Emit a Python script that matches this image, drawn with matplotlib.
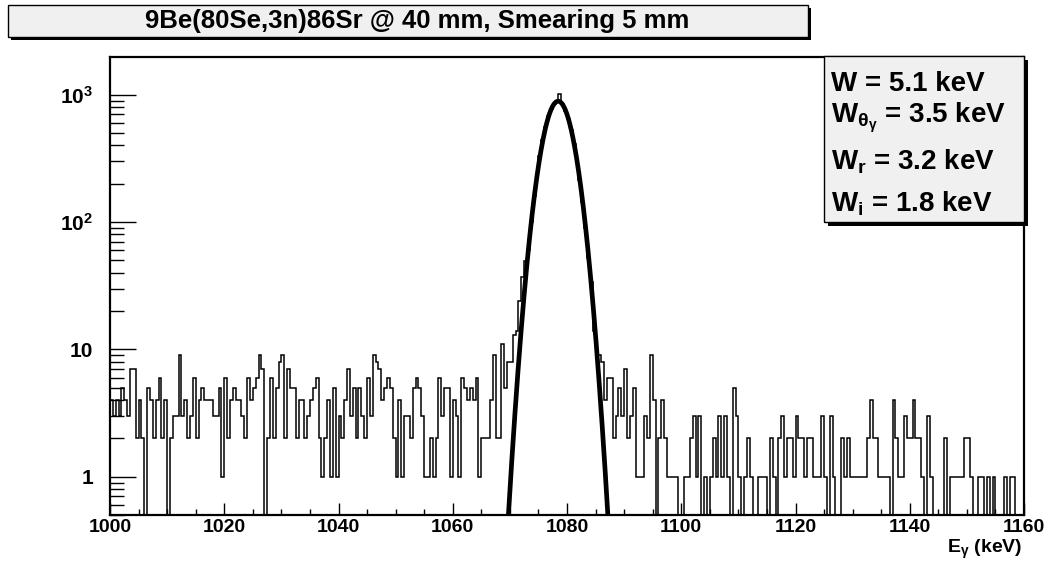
import numpy as np
import matplotlib
matplotlib.use('Agg')
import matplotlib.pyplot as plt
from matplotlib.patches import Rectangle
from matplotlib.ticker import FixedLocator, FixedFormatter, MultipleLocator, LogLocator, NullFormatter

plt.rcParams['font.family'] = ['Liberation Sans', 'DejaVu Sans']
plt.rcParams['font.weight'] = 'bold'
plt.rcParams['mathtext.fontset'] = 'custom'
plt.rcParams['mathtext.rm'] = 'Liberation Sans:bold'
plt.rcParams['mathtext.it'] = 'Liberation Sans:bold'
plt.rcParams['mathtext.bf'] = 'Liberation Sans:bold'
plt.rcParams['mathtext.default'] = 'regular'

# histogram: 0.5 keV bins from 1000 to 1160 keV
e_min, e_max, bin_w = 1000.0, 1160.0, 0.5
counts_1000_1040 = [4, 3, 4, 3, 5, 4, 3, 7, 7, 2, 4, 2, 0, 5, 4, 2, 4, 6, 2, 4,
                    0, 2, 3, 3, 9, 3, 4, 2, 3, 6, 2, 4, 5, 4, 4, 4, 3, 3, 5, 1,
                    6, 2, 4, 5, 4, 4, 3, 2, 6, 4, 5, 6, 9, 7, 0, 2, 6, 2, 5, 8,
                    9, 2, 7, 5, 5, 2, 4, 4, 2, 3, 4, 5, 6, 2, 1, 2, 4, 1, 5, 1]
counts_1040_1080 = [3, 2, 4, 7, 3, 5, 2, 5, 3, 2, 6, 3, 9, 8, 7, 4, 5, 6, 5, 2,
                    1, 4, 1, 3, 3, 2, 5, 6, 5, 3, 1, 1, 2, 1, 2, 6, 3, 5, 5, 1,
                    4, 3, 1, 6, 5, 4, 5, 4, 6, 1, 2, 2, 2, 4, 9, 2, 2, 11, 5, 8,
                    8, 13, 14, 24, 37, 49, 60, 100, 160, 235,
                    330, 440, 560, 675, 775, 850, 900, 1020, 840, 750]
counts_1080_1120 = [640, 525, 410, 305, 215, 145, 90, 52, 34, 14,
                    9, 9, 8, 4, 6, 6, 2, 3, 5, 3, 7, 2, 3, 5, 1, 1, 1, 3, 2, 9,
                    4, 0, 2, 4, 2, 1, 1, 1, 1, 0, 0, 1, 1, 2, 3, 1, 3, 0, 1, 0,
                    1, 2, 1, 3, 1, 3, 1, 0, 5, 3, 1, 0, 1, 2, 1, 0, 0, 1, 1, 1,
                    0, 2, 1, 0, 2, 3, 1, 2, 2, 1]
counts_1120_1160 = [3, 2, 2, 1, 2, 2, 1, 1, 1, 3, 1, 0, 3, 1, 0, 0, 2, 1, 2, 1,
                    1, 1, 1, 1, 1, 2, 4, 2, 2, 1, 1, 1, 1, 0, 4, 2, 1, 1, 3, 2,
                    2, 4, 2, 2, 1, 0, 3, 1, 0, 0, 0, 0, 2, 0, 1, 1, 1, 1, 1, 2,
                    2, 1, 0, 0, 1, 1, 0, 1, 0, 1, 0, 0, 0, 1, 0, 1, 1, 0, 0, 0]

# gaussian fit
fit_amp, fit_mean, fit_sigma = 890.0, 1078.45, 2.25

title = "9Be(80Se,3n)86Sr @ 40 mm, Smearing 5 mm"
stat_lines = ["W = 5.1 keV",
              r"W$_{\theta_{\gamma}}$ = 3.5 keV",
              r"W$_{r}$ = 3.2 keV",
              r"W$_{i}$ = 1.8 keV"]

counts = np.array(counts_1000_1040 + counts_1040_1080 + counts_1080_1120 + counts_1120_1160, float)
edges = np.arange(e_min, e_max + bin_w / 2, bin_w)

W, H = 1053, 567
fig = plt.figure(figsize=(W / 100, H / 100), dpi=100)

def fx(px):
    return px / W

def fy(py):
    return 1 - py / H

ax = fig.add_axes([fx(110), fy(515), fx(1024) - fx(110), fy(56.7) - fy(515)])

# zero bins drawn down past the bottom of the frame
ax.stairs(np.where(counts > 0, counts, 1e-3), edges, baseline=None, color='black', lw=1.1)

xf = np.linspace(1066, 1091, 600)
ax.plot(xf, fit_amp * np.exp(-(xf - fit_mean) ** 2 / (2 * fit_sigma ** 2)), color='black', lw=3.4)

ax.set_yscale('log')
ax.set_xlim(e_min, e_max)
ax.set_ylim(0.5, 1990)

ax.xaxis.set_major_locator(MultipleLocator(20))
ax.xaxis.set_minor_locator(MultipleLocator(5))
ax.yaxis.set_major_locator(FixedLocator([1, 10, 100, 1000]))
ax.yaxis.set_major_formatter(FixedFormatter(['1', '10', r'10$^{2}$', r'10$^{3}$']))
ax.yaxis.set_minor_locator(LogLocator(base=10, subs=np.arange(2, 10)))
ax.yaxis.set_minor_formatter(NullFormatter())

ax.tick_params(which='both', direction='in', top=False, right=False, width=1.0, labelsize=14)
ax.tick_params(axis='y', which='major', length=19, pad=12, labelsize=15)
ax.tick_params(axis='y', which='minor', length=10)
ax.tick_params(axis='x', which='major', length=8.5, pad=3)
ax.tick_params(axis='x', which='minor', length=4.3)
for sp in ax.spines.values():
    sp.set_linewidth(1.6)

fig.text(fx(1022), fy(553), r"E$_{\gamma}$ (keV)", ha='right', va='baseline', fontsize=14)

# title box with shadow
fig.patches.append(Rectangle((fx(11), fy(40)), fx(800), fy(5) - fy(37), transform=fig.transFigure,
                             facecolor='black', edgecolor='none', zorder=5))
fig.patches.append(Rectangle((fx(8), fy(37)), fx(800), fy(5) - fy(37), transform=fig.transFigure,
                             facecolor='#f0f0f0', edgecolor='black', lw=1.0, zorder=6))
fig.text(fx(417), fy(21), title, ha='center', va='center', fontsize=18.5, zorder=7)

# stats box with shadow
fig.patches.append(Rectangle((fx(828), fy(226)), fx(200), fy(56) - fy(222), transform=fig.transFigure,
                             facecolor='black', edgecolor='none', zorder=5))
fig.patches.append(Rectangle((fx(824), fy(222)), fx(200), fy(56) - fy(222), transform=fig.transFigure,
                             facecolor='#f0f0f0', edgecolor='black', lw=1.0, zorder=6))
for txt, base in zip(stat_lines, [91, 122, 170, 211]):
    fig.text(fx(831), fy(base), txt, ha='left', va='baseline', fontsize=20, zorder=7)

fig.savefig('out.png', dpi=100)
